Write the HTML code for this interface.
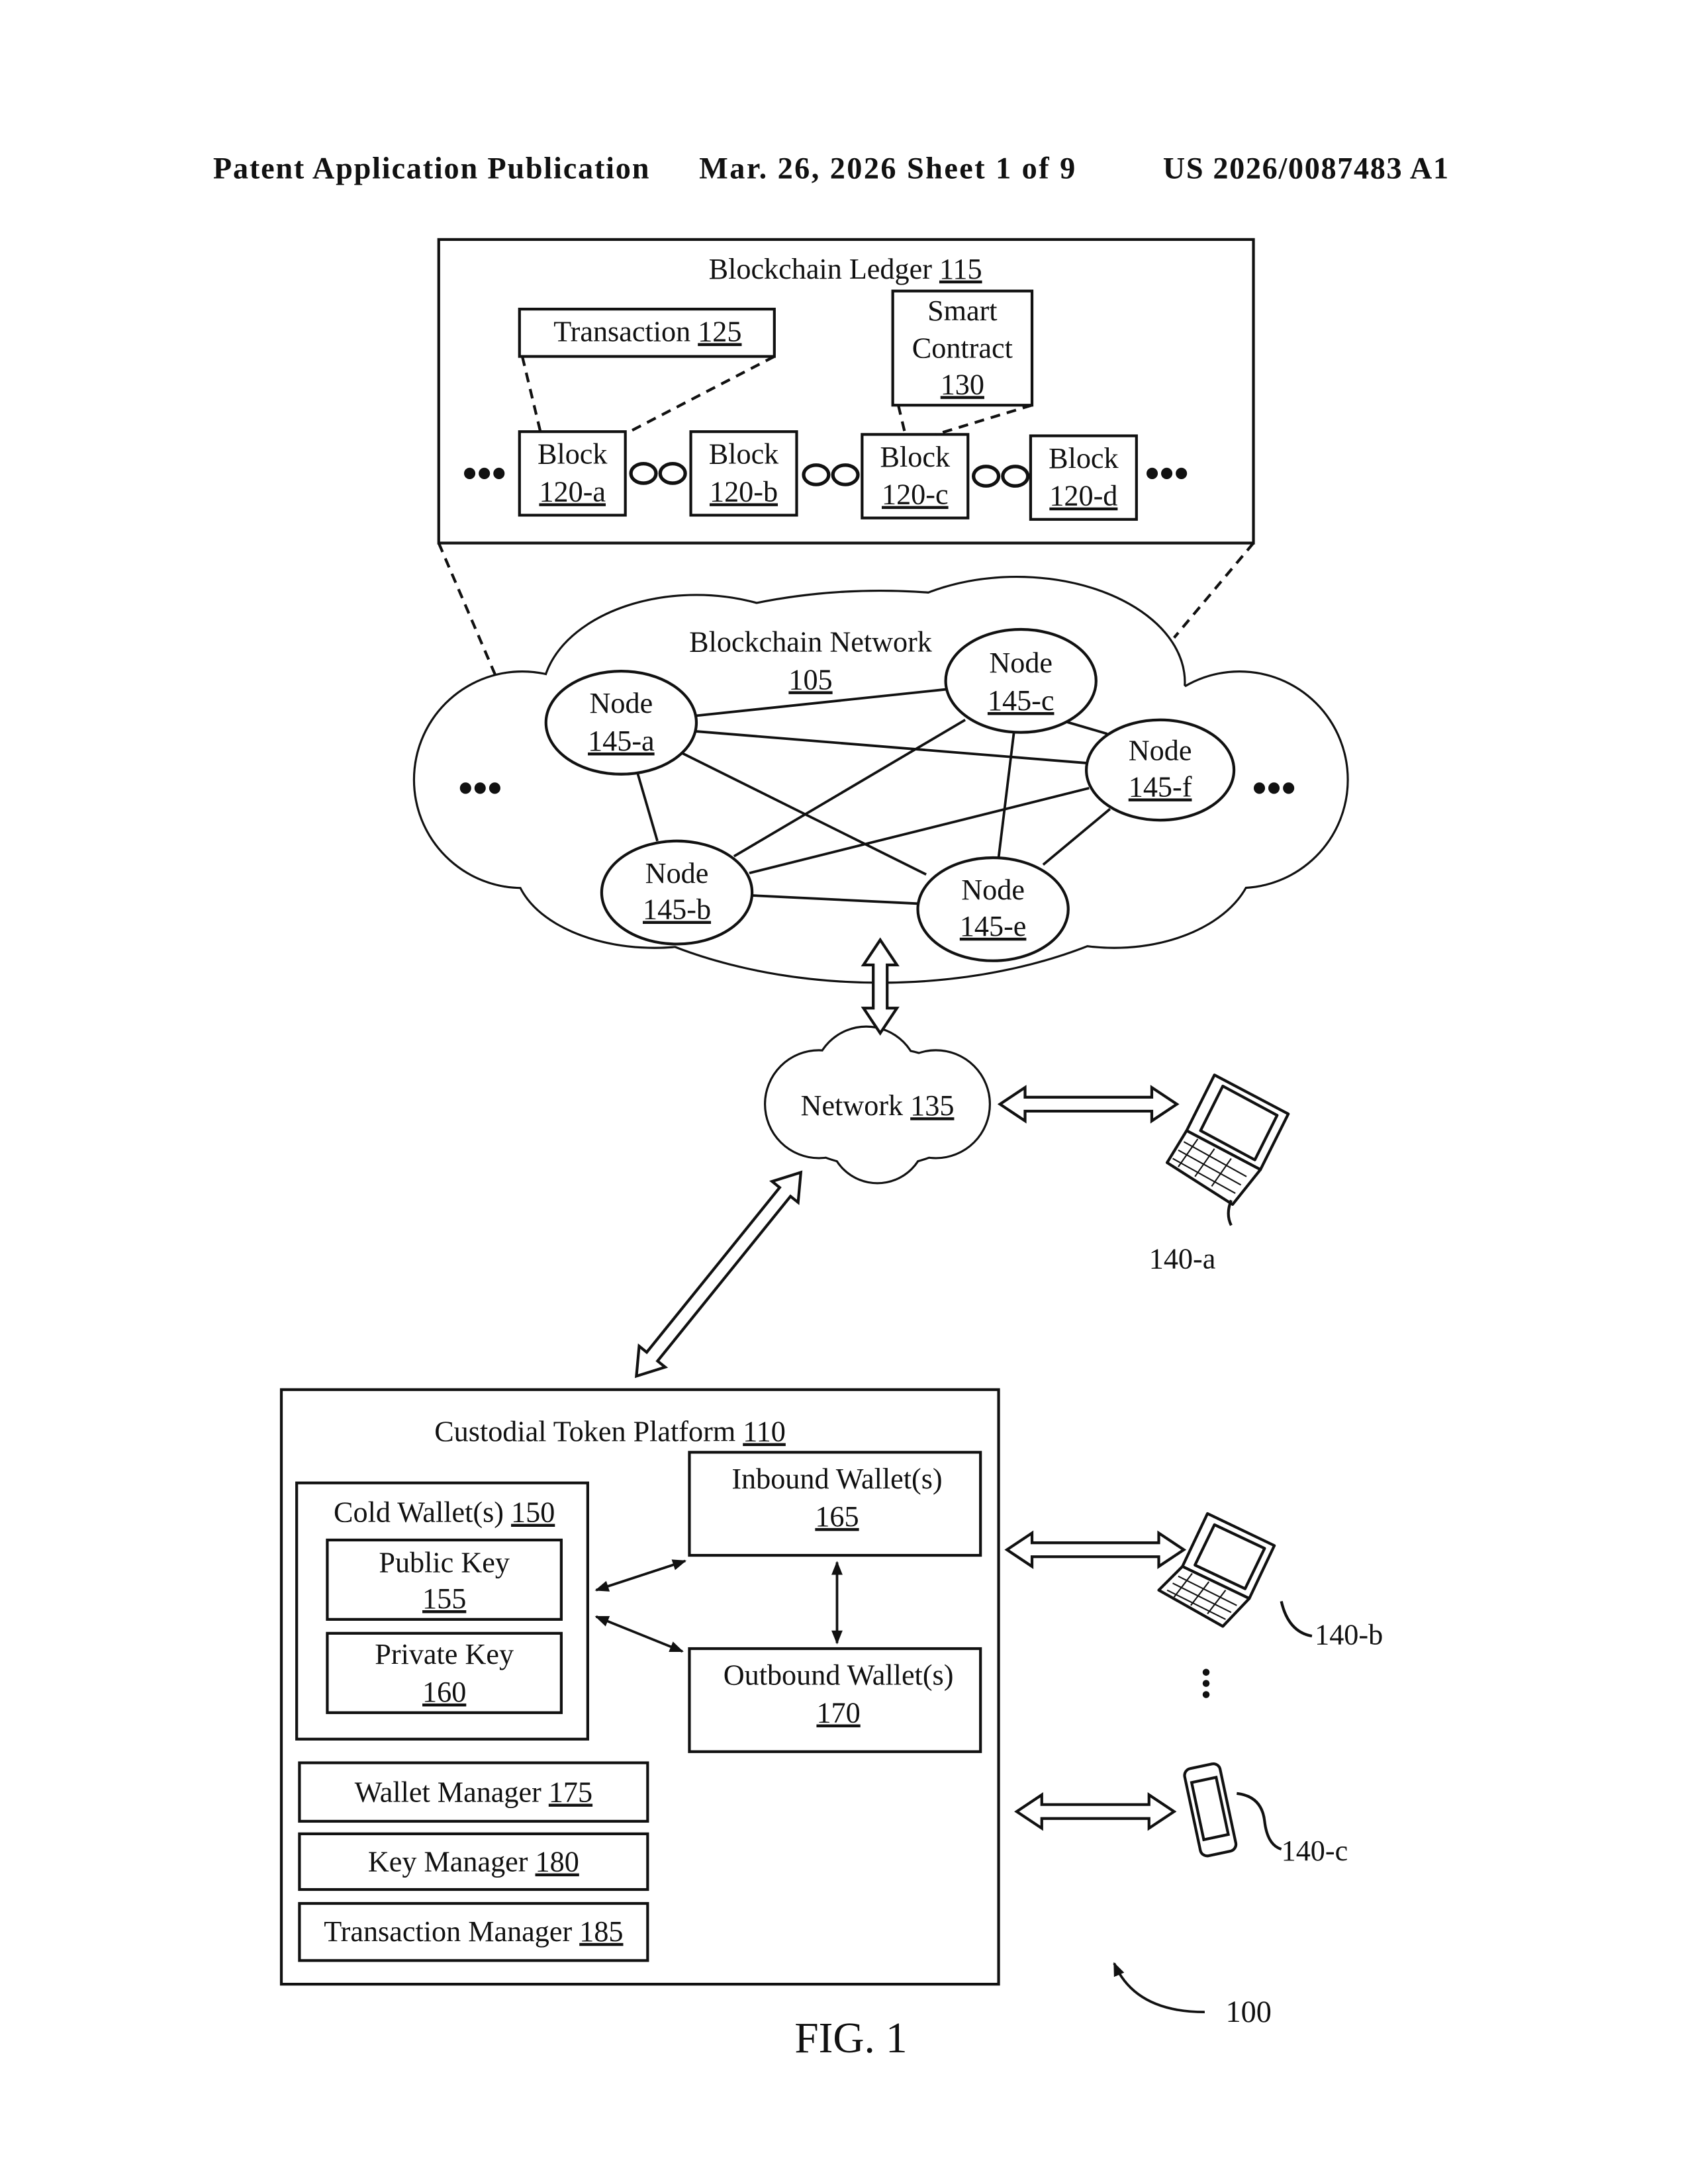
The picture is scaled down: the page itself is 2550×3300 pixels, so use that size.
<!DOCTYPE html>
<html><head><meta charset="utf-8"><style>
html,body{margin:0;padding:0;background:#fff;}
svg{display:block;}
text{font-family:"Liberation Serif",serif;fill:#111;}
.u{text-decoration:underline;}
</style></head><body>
<svg width="2550" height="3300" viewBox="0 0 1212 1568.5" xmlns="http://www.w3.org/2000/svg">
<defs>
<marker id="ah" markerWidth="10" markerHeight="10" refX="9" refY="5" orient="auto-start-reverse" markerUnits="userSpaceOnUse"><path d="M0,1 L10,5 L0,9 Z" fill="#111"/></marker>
</defs>
<rect width="1224" height="1584" fill="#fff"/>
<g font-weight="bold" font-size="22">
<text x="153" y="128" textLength="313" lengthAdjust="spacing">Patent Application Publication</text>
<text x="502" y="128" textLength="270" lengthAdjust="spacing">Mar. 26, 2026  Sheet 1 of 9</text>
<text x="835" y="128" textLength="205" lengthAdjust="spacing">US 2026/0087483 A1</text>
</g>
<g stroke="#111" stroke-width="2" fill="none">
<rect x="315" y="172" width="585" height="218"/>
<rect x="373" y="222" width="183" height="34"/>
<rect x="641" y="209" width="100" height="82"/>
<rect x="373" y="310" width="76" height="60"/>
<rect x="496" y="310" width="76" height="60"/>
<rect x="619" y="312" width="76" height="60"/>
<rect x="740" y="313" width="76" height="60"/>
<g stroke-width="2.5">
<ellipse cx="462" cy="340" rx="9" ry="7"/><ellipse cx="483" cy="340" rx="9" ry="7"/>
<ellipse cx="586" cy="341" rx="9" ry="7"/><ellipse cx="607" cy="341" rx="9" ry="7"/>
<ellipse cx="708" cy="342" rx="9" ry="7"/><ellipse cx="729" cy="342" rx="9" ry="7"/>
</g>
<g stroke-dasharray="7,5">
<line x1="375" y1="256" x2="388" y2="310"/><line x1="556" y1="256" x2="452" y2="310"/>
<line x1="645" y1="291" x2="650" y2="312"/><line x1="741" y1="291" x2="672" y2="312"/>
<line x1="315" y1="390" x2="357" y2="488"/><line x1="900" y1="390" x2="843" y2="458"/>
</g>
</g>
<g font-size="30" font-weight="bold"><text x="332" y="350">•••</text><text x="822" y="350">•••</text></g>
<g font-size="21" text-anchor="middle">
<text x="607" y="200">Blockchain Ledger <tspan class="u">115</tspan></text>
<text x="465" y="245">Transaction <tspan class="u">125</tspan></text>
<text x="691" y="230">Smart</text><text x="691" y="257">Contract</text><text x="691" y="283" class="u">130</text>
<text x="411" y="333">Block</text><text x="411" y="360" class="u">120-a</text>
<text x="534" y="333">Block</text><text x="534" y="360" class="u">120-b</text>
<text x="657" y="335">Block</text><text x="657" y="362" class="u">120-c</text>
<text x="778" y="336">Block</text><text x="778" y="363" class="u">120-d</text>
</g>
<g stroke="#111" stroke-width="3" fill="#fff">
<ellipse cx="632" cy="565" rx="255" ry="140"/>
<circle cx="375" cy="560" r="77"/><circle cx="890" cy="560" r="77"/>
<ellipse cx="500" cy="500" rx="110" ry="72"/><ellipse cx="730" cy="490" rx="120" ry="75"/>
<ellipse cx="470" cy="620" rx="100" ry="60"/><ellipse cx="800" cy="615" rx="100" ry="65"/>
</g>
<g fill="#fff">
<ellipse cx="632" cy="565" rx="255" ry="140"/>
<circle cx="375" cy="560" r="77"/><circle cx="890" cy="560" r="77"/>
<ellipse cx="500" cy="500" rx="110" ry="72"/><ellipse cx="730" cy="490" rx="120" ry="75"/>
<ellipse cx="470" cy="620" rx="100" ry="60"/><ellipse cx="800" cy="615" rx="100" ry="65"/>
</g>
<g font-size="30" font-weight="bold"><text x="329" y="576">•••</text><text x="899" y="576">•••</text></g>
<g stroke="#111" stroke-width="1.8" fill="none">
<line x1="500" y1="514" x2="680" y2="495"/>
<line x1="497" y1="525" x2="780" y2="548"/>
<line x1="488" y1="540" x2="665" y2="628"/>
<line x1="458" y1="556" x2="472" y2="604"/>
<line x1="527" y1="615" x2="693" y2="517"/>
<line x1="538" y1="627" x2="782" y2="566"/>
<line x1="538" y1="643" x2="660" y2="649"/>
<line x1="728" y1="526" x2="717" y2="616"/>
<line x1="749" y1="621" x2="797" y2="581"/>
<line x1="737" y1="510" x2="795" y2="527"/>
</g>
<g stroke="#111" stroke-width="2" fill="#fff">
<ellipse cx="446" cy="519" rx="54" ry="37"/>
<ellipse cx="733" cy="489" rx="54" ry="37"/>
<ellipse cx="833" cy="553" rx="53" ry="36"/>
<ellipse cx="486" cy="641" rx="54" ry="37"/>
<ellipse cx="713" cy="653" rx="54" ry="37"/>
</g>
<g font-size="21" text-anchor="middle">
<text x="582" y="468">Blockchain Network</text><text x="582" y="495" class="u">105</text>
<text x="446" y="512">Node</text><text x="446" y="539" class="u">145-a</text>
<text x="733" y="483">Node</text><text x="733" y="510" class="u">145-c</text>
<text x="833" y="546">Node</text><text x="833" y="572" class="u">145-f</text>
<text x="486" y="634">Node</text><text x="486" y="660" class="u">145-b</text>
<text x="713" y="646">Node</text><text x="713" y="672" class="u">145-e</text>
</g>
<g stroke="#111" stroke-width="3" fill="#fff">
<ellipse cx="630" cy="795" rx="70" ry="42"/><circle cx="588" cy="793" r="38"/><circle cx="672" cy="793" r="38"/>
<circle cx="622" cy="775" r="37"/><circle cx="630" cy="815" r="34"/>
</g>
<g fill="#fff">
<ellipse cx="630" cy="795" rx="70" ry="42"/><circle cx="588" cy="793" r="38"/><circle cx="672" cy="793" r="38"/>
<circle cx="622" cy="775" r="37"/><circle cx="630" cy="815" r="34"/>
</g>
<text x="630" y="801" font-size="21" text-anchor="middle">Network <tspan class="u">135</tspan></text>
<g stroke="#111" stroke-width="2" fill="#fff">
<g transform="translate(632,675) rotate(90)"><polygon points="0,0 18,-12 18,-5 49,-5 49,-12 67,0 49,12 49,5 18,5 18,12"/></g>
<g transform="translate(718,793)"><polygon points="0,0 18,-12 18,-5 109,-5 109,-12 127,0 109,12 109,5 18,5 18,12"/></g>
<g transform="translate(575,842) rotate(128.9)"><polygon points="0,0 18,-12 18,-5 170,-5 170,-12 188,0 170,12 170,5 18,5 18,12"/></g>
<g transform="translate(723,1113)"><polygon points="0,0 18,-12 18,-5 109,-5 109,-12 127,0 109,12 109,5 18,5 18,12"/></g>
<g transform="translate(730,1301)"><polygon points="0,0 18,-12 18,-5 95,-5 95,-12 113,0 95,12 95,5 18,5 18,12"/></g>
</g>
<g stroke="#111" stroke-width="2" fill="#fff" stroke-linejoin="round">
<polygon points="872,772 925,800 905,840 852,812"/>
<polygon points="878,780 917,801 901,833 862,812" fill="none"/>
<polygon points="852,812 905,840 885,865 838,835"/>
<g stroke-width="1" fill="none">
<line x1="850" y1="820" x2="895" y2="845"/><line x1="846" y1="826" x2="891" y2="851"/><line x1="842" y1="832" x2="887" y2="857"/>
<line x1="860" y1="818" x2="846" y2="838"/><line x1="872" y1="825" x2="858" y2="845"/><line x1="884" y1="832" x2="870" y2="852"/>
</g>
<path d="M884,862 Q880,872 884,880" fill="none"/>
</g>
<text x="825" y="911" font-size="21">140-a</text>
<g stroke="#111" stroke-width="2" fill="none">
<rect x="202" y="998" width="515" height="427"/>
<rect x="213" y="1065" width="209" height="184"/>
<rect x="235" y="1106" width="168" height="57"/>
<rect x="235" y="1173" width="168" height="57"/>
<rect x="495" y="1043" width="209" height="74"/>
<rect x="495" y="1184" width="209" height="74"/>
<rect x="215" y="1266" width="250" height="42"/>
<rect x="215" y="1317" width="250" height="40"/>
<rect x="215" y="1367" width="250" height="41"/>
<line x1="428" y1="1142" x2="492" y2="1121" marker-start="url(#ah)" marker-end="url(#ah)" stroke-width="1.8"/>
<line x1="428" y1="1161" x2="490" y2="1186" marker-start="url(#ah)" marker-end="url(#ah)" stroke-width="1.8"/>
<line x1="601" y1="1122" x2="601" y2="1180" marker-start="url(#ah)" marker-end="url(#ah)" stroke-width="1.8"/>
</g>
<g font-size="21" text-anchor="middle">
<text x="438" y="1035">Custodial Token Platform <tspan class="u">110</tspan></text>
<text x="319" y="1093">Cold Wallet(s) <tspan class="u">150</tspan></text>
<text x="319" y="1129">Public Key</text><text x="319" y="1155" class="u">155</text>
<text x="319" y="1195">Private Key</text><text x="319" y="1222" class="u">160</text>
<text x="601" y="1069">Inbound Wallet(s)</text><text x="601" y="1096" class="u">165</text>
<text x="602" y="1210">Outbound Wallet(s)</text><text x="602" y="1237" class="u">170</text>
<text x="340" y="1294">Wallet Manager <tspan class="u">175</tspan></text>
<text x="340" y="1344">Key Manager <tspan class="u">180</tspan></text>
<text x="340" y="1394">Transaction Manager <tspan class="u">185</tspan></text>
</g>
<g stroke="#111" stroke-width="2" fill="#fff" stroke-linejoin="round">
<polygon points="867,1087 915,1110 897,1148 849,1125"/>
<polygon points="872,1095 908,1112 894,1141 858,1124" fill="none"/>
<polygon points="849,1125 897,1148 878,1168 832,1142"/>
<g stroke-width="1" fill="none">
<line x1="846" y1="1132" x2="888" y2="1153"/><line x1="842" y1="1137" x2="884" y2="1158"/><line x1="838" y1="1142" x2="880" y2="1163"/>
<line x1="856" y1="1130" x2="843" y2="1147"/><line x1="868" y1="1136" x2="855" y2="1153"/><line x1="880" y1="1142" x2="867" y2="1159"/>
</g>
<path d="M920,1150 Q925,1172 942,1175" fill="none"/>
</g>
<text x="944" y="1181" font-size="21">140-b</text>
<g fill="#111"><circle cx="866" cy="1201" r="2.5"/><circle cx="866" cy="1209" r="2.5"/><circle cx="866" cy="1217" r="2.5"/></g>
<g stroke="#111" stroke-width="2" fill="#fff">
<g transform="rotate(-12 868 1300)"><rect x="856" y="1268" width="26" height="64" rx="5"/><rect x="860" y="1278" width="18" height="42" fill="none"/></g>
<path d="M888,1288 Q906,1290 908,1308 Q910,1325 920,1328" fill="none"/>
</g>
<text x="920" y="1336" font-size="21">140-c</text>
<path d="M865,1445 Q815,1445 800,1410" stroke="#111" stroke-width="1.8" fill="none" marker-end="url(#ah)"/>
<text x="880" y="1452" font-size="22">100</text>
<text x="611" y="1474" font-size="31" text-anchor="middle">FIG. 1</text>
</svg>
</body></html>
